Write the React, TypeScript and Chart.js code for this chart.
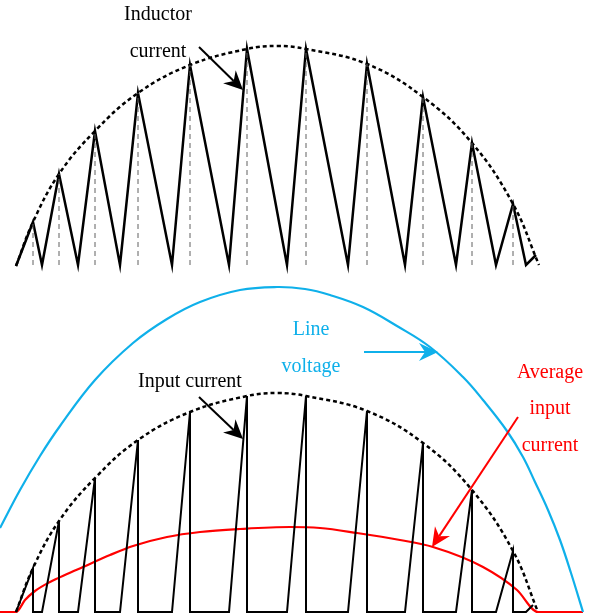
import React, { useEffect, useRef } from "react";
import { Chart, registerables } from "chart.js";

Chart.register(...registerables);

// ---- Data (diagram units: x = time, y = level, measured downward) ----
const inductorX = [16, 33, 42, 59, 78, 95, 120, 138, 172, 190, 229, 247, 287, 306, 348, 367, 405, 423, 456, 472, 496, 513, 526, 536];
const inductorY = [266, 222, 265, 174, 265, 131, 265, 93, 265, 65, 265, 49, 265, 49, 265, 64, 265, 97, 265, 143, 265, 204, 265, 255];

const envelopeTopX = [16, 33, 59, 95, 138, 190, 247, 277, 306, 367, 423, 472, 513, 539];
const envelopeTopY = [266, 222, 174, 131, 93, 65, 49, 46, 49, 64, 97, 143, 204, 265];

const peakX = [33, 59, 95, 138, 190, 247, 306, 367, 423, 472, 513];
const topPeakY = [222, 174, 131, 93, 65, 49, 49, 64, 97, 143, 204];
const topBase = 265;

const inputX = [16, 33, 33, 42, 59, 59, 78, 95, 95, 120, 138, 138, 172, 190, 190, 229, 247, 247, 287, 306, 306, 348, 367, 367, 405, 423, 423, 456, 472, 472, 496, 513, 513, 526, 533];
const inputY = [612, 568, 612, 612, 521, 612, 612, 478, 612, 612, 440, 612, 612, 412, 612, 612, 396, 612, 612, 396, 612, 612, 411, 612, 612, 443, 612, 612, 490, 612, 612, 551, 612, 612, 605];

const envelopeBotX = [16, 33, 59, 95, 138, 190, 247, 277, 306, 367, 423, 472, 513, 538];
const envelopeBotY = [612, 568, 521, 478, 440, 412, 396, 393, 396, 411, 443, 490, 551, 612];

const lineVoltX = [0, 20, 40, 60, 95, 133, 167, 200, 240, 277, 305, 330, 363, 397, 430, 463, 483, 507, 523, 535, 548, 560, 571, 583];
const lineVoltY = [528, 490, 456, 426, 380, 343, 319, 302, 290, 287, 289, 295, 307, 326, 347, 377, 400, 431, 457, 482, 510, 540, 573, 612];

const avgCurX = [0, 16, 25, 35, 50, 67, 83, 110, 133, 167, 200, 240, 290, 320, 357, 400, 433, 483, 517, 538, 583];
const avgCurY = [612, 612, 600, 591, 582, 574, 567, 555, 546, 537, 532, 529, 527, 528, 533, 540, 547, 567, 590, 612, 612];

const labels = ["Inductor", "current", "Input current", "Line", "voltage", "Average", "input", "current"];
const labelX = [158, 158, 190, 311, 311, 550, 550, 550];
const labelY = [15, 52, 382, 330, 367, 373, 409, 446];
const labelGroup = [0, 0, 0, 1, 1, 2, 2, 2];

const arrowFromX = [199, 199, 364, 518];
const arrowFromY = [47, 397, 352, 417];
const arrowToX = [243, 243, 438, 432];
const arrowToY = [90, 439, 352, 547];
const arrowGroup = [0, 0, 1, 2];

const BLACK = "#000000";
const BLUE = "#0fb0ea";
const RED = "#ff0000";
const groupColors = [BLACK, BLUE, RED];

const pts = (xs: number[], ys: number[]) => xs.map((x, i) => ({ x, y: ys[i] }));

const annotationPlugin = {
  id: "annotations",
  afterDatasetsDraw(chart: any) {
    const { ctx, scales } = chart;
    const sx = scales.x;
    const sy = scales.y;
    ctx.save();
    arrowFromX.forEach((fx, i) => {
      const x1 = sx.getPixelForValue(fx);
      const y1 = sy.getPixelForValue(arrowFromY[i]);
      const x2 = sx.getPixelForValue(arrowToX[i]);
      const y2 = sy.getPixelForValue(arrowToY[i]);
      const color = groupColors[arrowGroup[i]];
      const ang = Math.atan2(y2 - y1, x2 - x1);
      const len = 19;
      const half = 9;
      const notch = 13;
      ctx.strokeStyle = color;
      ctx.fillStyle = color;
      ctx.lineWidth = 2;
      ctx.beginPath();
      ctx.moveTo(x1, y1);
      ctx.lineTo(x2 - Math.cos(ang) * notch, y2 - Math.sin(ang) * notch);
      ctx.stroke();
      const bx = x2 - Math.cos(ang) * len;
      const by = y2 - Math.sin(ang) * len;
      const px = -Math.sin(ang);
      const py = Math.cos(ang);
      ctx.beginPath();
      ctx.moveTo(x2, y2);
      ctx.lineTo(bx + px * half, by + py * half);
      ctx.lineTo(x2 - Math.cos(ang) * notch, y2 - Math.sin(ang) * notch);
      ctx.lineTo(bx - px * half, by - py * half);
      ctx.closePath();
      ctx.fill();
    });
    ctx.font = '20px "Liberation Serif", "Times New Roman", serif';
    ctx.textAlign = "center";
    ctx.textBaseline = "middle";
    labels.forEach((t, i) => {
      ctx.fillStyle = groupColors[labelGroup[i]];
      ctx.fillText(t, sx.getPixelForValue(labelX[i]), sy.getPixelForValue(labelY[i]));
    });
    ctx.restore();
  },
};

export default function App() {
  const ref = useRef<HTMLCanvasElement>(null);
  useEffect(() => {
    if (!ref.current) return;
    const verticals = peakX.map((x, i) => ({
      data: [{ x, y: topBase }, { x, y: topPeakY[i] }],
      showLine: true,
      borderColor: "#606060",
      borderWidth: 1,
      borderDash: [5, 4],
      pointRadius: 0,
    }));
    const spline = { tension: 0.4, pointRadius: 0, showLine: true };
    const mono = { cubicInterpolationMode: "monotone", pointRadius: 0, showLine: true };
    const chart = new Chart(ref.current, {
      type: "scatter",
      data: {
        datasets: [
          ...verticals,
          { ...spline, data: pts(envelopeTopX, envelopeTopY), borderColor: BLACK, borderWidth: 2.5, borderDash: [4, 3] },
          { data: pts(inductorX, inductorY), showLine: true, borderColor: BLACK, borderWidth: 2.5, pointRadius: 0 },
          { ...spline, data: pts(lineVoltX, lineVoltY), borderColor: BLUE, borderWidth: 2.2 },
          { ...spline, data: pts(envelopeBotX, envelopeBotY), borderColor: BLACK, borderWidth: 2.5, borderDash: [4, 3] },
          { data: pts(inputX, inputY), showLine: true, borderColor: BLACK, borderWidth: 2, pointRadius: 0 },
          { ...mono, data: pts(avgCurX, avgCurY), borderColor: RED, borderWidth: 2.2 },
        ] as any,
      },
      options: {
        animation: false,
        responsive: false,
        maintainAspectRatio: false,
        layout: { padding: 0 },
        plugins: { legend: { display: false }, tooltip: { enabled: false } },
        scales: {
          x: { type: "linear", min: 0, max: 596, display: false },
          y: { type: "linear", min: 0, max: 615, reverse: true, display: false },
        },
      },
      plugins: [annotationPlugin],
    });
    return () => chart.destroy();
  }, []);
  return (
    <div style={{ position: "absolute", left: 0, top: 0, width: 596, height: 615, background: "#fff" }}>
      <canvas ref={ref} width={596} height={615} />
    </div>
  );
}
